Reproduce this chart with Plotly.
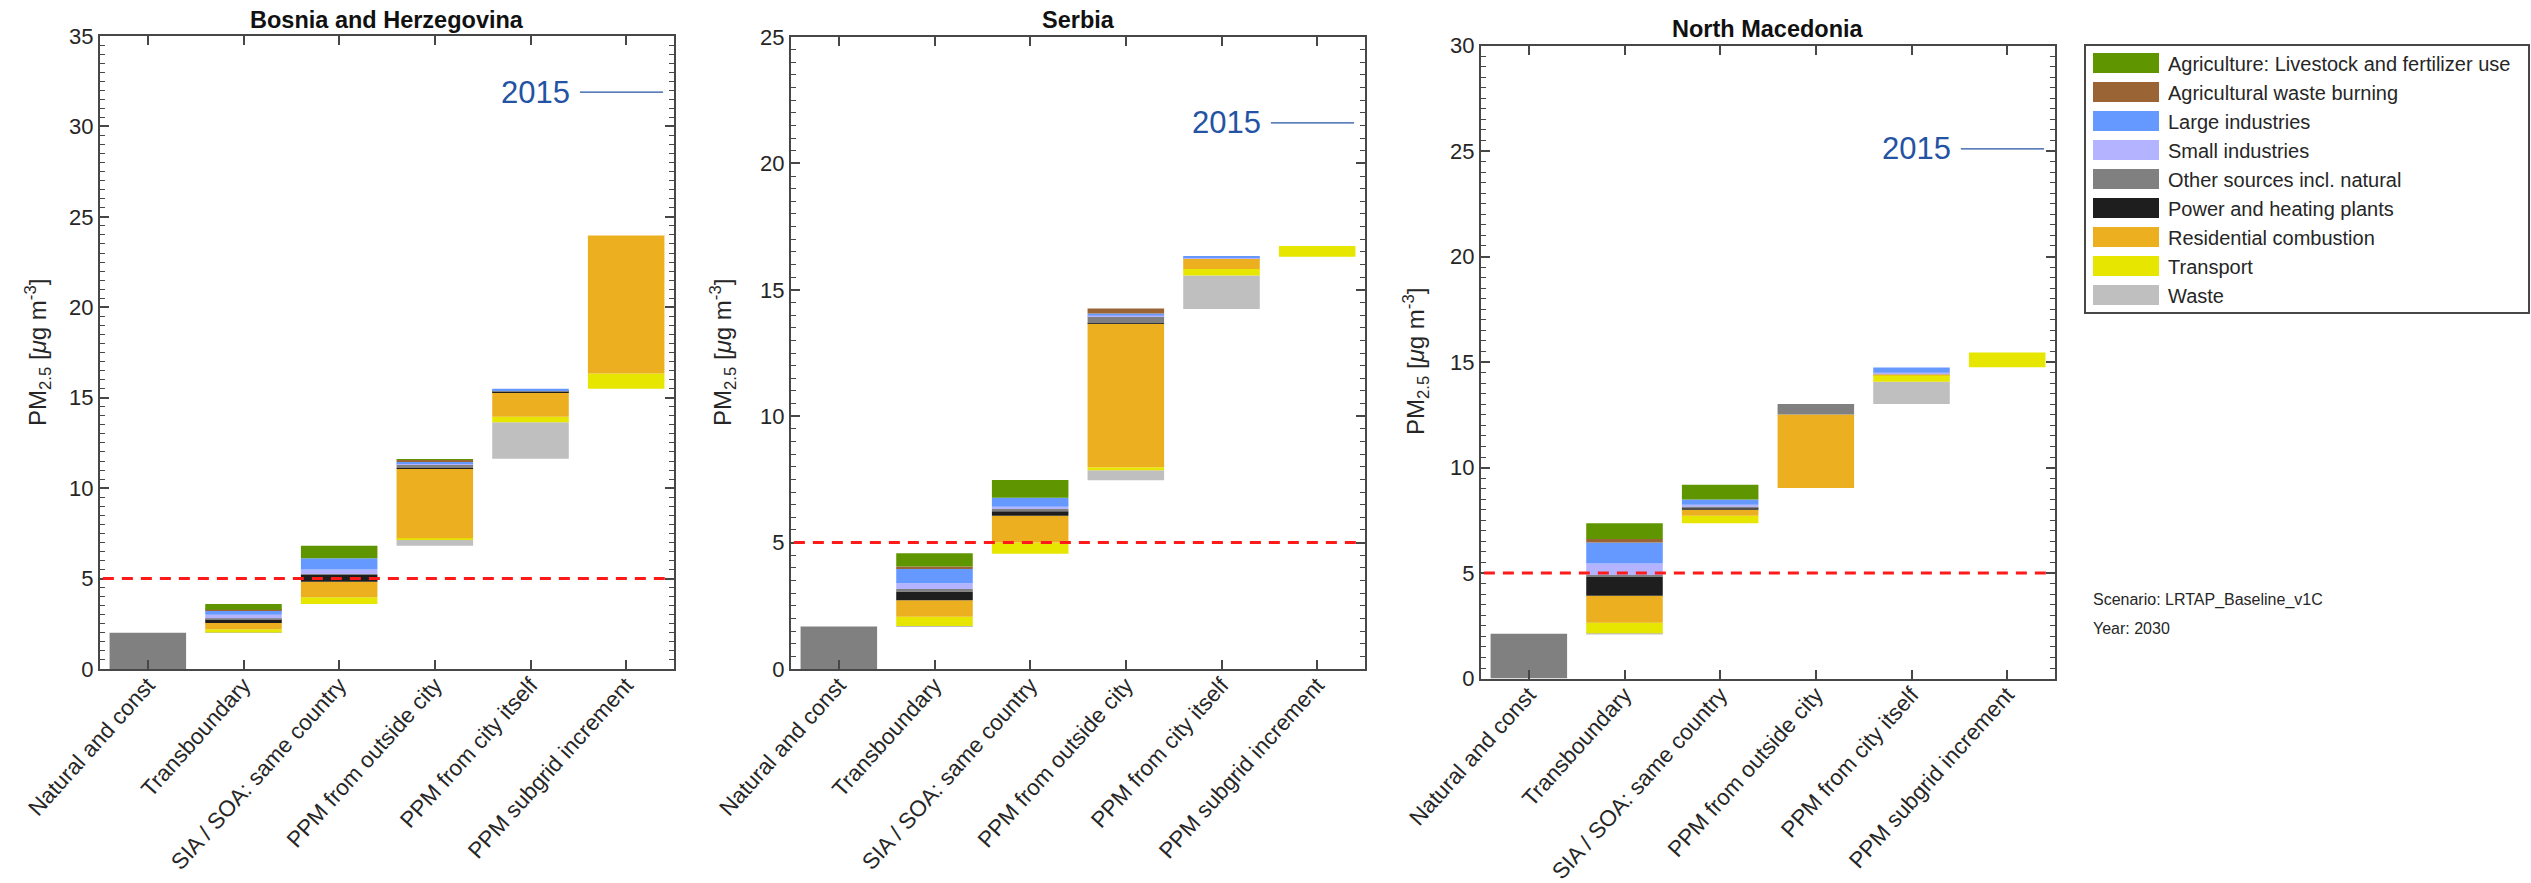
import plotly.graph_objects as go

W, H = 2531, 883

# ---------------------------------------------------------------- data
categories = ["Natural and const", "Transboundary", "SIA / SOA: same country",
              "PPM from outside city", "PPM from city itself", "PPM subgrid increment"]

# sectors listed bottom-to-top as they are stacked inside every bar
sectors = ["Waste", "Transport", "Residential combustion", "Power and heating plants",
           "Other sources incl. natural", "Small industries", "Large industries",
           "Agricultural waste burning", "Agriculture: Livestock and fertilizer use"]
sector_colors = ["#bfbfbf", "#e6e600", "#ebaf20", "#1e1e1e", "#808080",
                 "#b3b3ff", "#6699ff", "#9a6434", "#5f9600"]

countries = ["Bosnia and Herzegovina", "Serbia", "North Macedonia"]

# Bosnia and Herzegovina: bar bottoms and sector contributions (ug/m3)
bih_base = [0.0, 2.00, 3.60, 6.81, 11.63, 15.50]
bih_waste = [0.0, 0.02, 0.00, 0.35, 2.02, 0.00]
bih_transport = [0.0, 0.18, 0.37, 0.07, 0.30, 0.84]
bih_residential = [0.0, 0.35, 0.86, 3.83, 1.36, 7.63]
bih_power = [0.0, 0.20, 0.37, 0.05, 0.02, 0.00]
bih_other = [2.00, 0.05, 0.05, 0.20, 0.05, 0.00]
bih_small = [0.0, 0.20, 0.25, 0.05, 0.02, 0.00]
bih_large = [0.0, 0.25, 0.62, 0.10, 0.10, 0.00]
bih_agwaste = [0.0, 0.02, 0.00, 0.10, 0.00, 0.00]
bih_agri = [0.0, 0.33, 0.69, 0.05, 0.00, 0.00]
bih_2015 = 31.9

# Serbia
srb_base = [0.0, 1.68, 4.56, 7.47, 14.24, 16.31]
srb_waste = [0.0, 0.02, 0.00, 0.39, 1.33, 0.00]
srb_transport = [0.0, 0.37, 0.44, 0.12, 0.25, 0.42]
srb_residential = [0.0, 0.65, 1.06, 5.67, 0.41, 0.00]
srb_power = [0.0, 0.35, 0.18, 0.03, 0.00, 0.00]
srb_other = [1.68, 0.09, 0.09, 0.27, 0.02, 0.00]
srb_small = [0.0, 0.23, 0.09, 0.03, 0.02, 0.00]
srb_large = [0.0, 0.57, 0.35, 0.08, 0.05, 0.00]
srb_agwaste = [0.0, 0.09, 0.00, 0.20, 0.00, 0.00]
srb_agri = [0.0, 0.53, 0.71, 0.00, 0.00, 0.00]
srb_2015 = 21.6

# North Macedonia
mkd_base = [0.0, 2.12, 7.36, 9.03, 13.01, 14.75]
mkd_waste = [0.0, 0.03, 0.00, 0.00, 1.06, 0.00]
mkd_transport = [0.0, 0.50, 0.36, 0.00, 0.32, 0.70]
mkd_residential = [0.0, 1.27, 0.28, 3.49, 0.06, 0.00]
mkd_power = [0.0, 0.89, 0.10, 0.00, 0.00, 0.00]
mkd_other = [2.12, 0.10, 0.04, 0.49, 0.00, 0.00]
mkd_small = [0.0, 0.55, 0.10, 0.00, 0.04, 0.00]
mkd_large = [0.0, 0.99, 0.25, 0.00, 0.25, 0.00]
mkd_agwaste = [0.0, 0.17, 0.00, 0.00, 0.00, 0.00]
mkd_agri = [0.0, 0.74, 0.70, 0.00, 0.00, 0.00]
mkd_2015 = 25.1

who_guideline = 5.0
y_max = [35, 25, 30]

scenario_text = "Scenario: LRTAP_Baseline_v1C"
year_text = "Year: 2030"
y_title = "PM<sub>2.5</sub> [<i>μ</i>g m<sup>-3</sup>]"

country_base = [bih_base, srb_base, mkd_base]
country_sectors = [
    [bih_waste, bih_transport, bih_residential, bih_power, bih_other,
     bih_small, bih_large, bih_agwaste, bih_agri],
    [srb_waste, srb_transport, srb_residential, srb_power, srb_other,
     srb_small, srb_large, srb_agwaste, srb_agri],
    [mkd_waste, mkd_transport, mkd_residential, mkd_power, mkd_other,
     mkd_small, mkd_large, mkd_agwaste, mkd_agri],
]
country_2015 = [bih_2015, srb_2015, mkd_2015]

# ---------------------------------------------------------------- layout helpers
FONT = "Liberation Sans, Arial, sans-serif"
AXIS_COLOR = "#474747"
TEXT_COLOR = "#262626"
BLUE = "#2453a3"


def px_x(x):
    return x / W


def px_y(y):
    return 1 - y / H


# panel boxes in pixels: (left, right, top, bottom)
panels = [(100, 674, 36, 669), (791, 1365, 37, 669), (1481, 2055, 45.5, 678.6)]
title_y = [20, 20, 29]
ytitle_pos = [(38, 353), (723, 353), (1416, 362)]

fig = go.Figure()

for ci, country in enumerate(countries):
    sfx = "" if ci == 0 else str(ci + 1)
    running = list(country_base[ci])
    for si, sector in enumerate(sectors):
        vals = country_sectors[ci][si]
        fig.add_trace(go.Bar(
            x=categories, y=vals, base=list(running),
            width=0.8, marker=dict(color=sector_colors[si], line=dict(width=0)),
            name=sector, showlegend=False,
            xaxis="x" + sfx, yaxis="y" + sfx,
            hovertemplate="%{x}<br>" + sector + ": %{y:.2f}<extra>" + country + "</extra>",
        ))
        running = [r + v for r, v in zip(running, vals)]

layout = dict(
    width=W, height=H, margin=dict(l=0, r=0, t=0, b=0, autoexpand=False),
    paper_bgcolor="white", plot_bgcolor="white",
    barmode="overlay", showlegend=False,
    font=dict(family=FONT, color=TEXT_COLOR, size=22),
)

shapes = []
annotations = []

for ci, country in enumerate(countries):
    sfx = "" if ci == 0 else str(ci + 1)
    l, r, t, b = panels[ci]
    layout["xaxis" + sfx] = dict(
        domain=[px_x(l), px_x(r)], anchor="y" + sfx, automargin=False,
        type="category", range=[-0.5, 5.5],
        showline=True, linecolor=AXIS_COLOR, linewidth=2, mirror="ticks",
        ticks="inside", ticklen=9, tickwidth=1.5, tickcolor=AXIS_COLOR,
        tickangle=-48, ticklabelstandoff=-8,
        tickfont=dict(size=22.5, color=TEXT_COLOR),
        showgrid=False, zeroline=False,
    )
    layout["yaxis" + sfx] = dict(
        domain=[px_y(b), px_y(t)], anchor="x" + sfx, automargin=False,
        range=[0, y_max[ci]], dtick=5, tick0=0,
        showline=True, linecolor=AXIS_COLOR, linewidth=2, mirror="ticks",
        ticks="inside", ticklen=9, tickwidth=1.5, tickcolor=AXIS_COLOR,
        minor=dict(ticks="inside", dtick=0.5, ticklen=5, tickwidth=1.2,
                   tickcolor=AXIS_COLOR, showgrid=False),
        tickfont=dict(size=22, color=TEXT_COLOR),
        showgrid=False, zeroline=False,
    )

    # y-axis title
    annotations.append(dict(
        text=y_title, xref="paper", yref="paper",
        x=px_x(ytitle_pos[ci][0]), y=px_y(ytitle_pos[ci][1]),
        xanchor="center", yanchor="middle", textangle=-90,
        showarrow=False, font=dict(size=24, color=TEXT_COLOR),
    ))

    # country title
    annotations.append(dict(
        text="<b>" + country + "</b>", xref="paper", yref="paper",
        x=px_x((l + r) / 2), y=px_y(title_y[ci]), xanchor="center", yanchor="middle",
        showarrow=False, font=dict(size=23.5, color="#111111"),
    ))

    # WHO guideline
    shapes.append(dict(
        type="line", xref="x" + sfx + " domain", yref="y" + sfx,
        x0=0.005, x1=0.984, y0=who_guideline, y1=who_guideline,
        line=dict(color="#ff1a1a", width=3, dash="11px,8px"), layer="above",
    ))

    # 2015 reference level
    shapes.append(dict(
        type="line", xref="x" + sfx + " domain", yref="y" + sfx,
        x0=0.836, x1=0.981, y0=country_2015[ci], y1=country_2015[ci],
        line=dict(color=BLUE, width=1.3), layer="above",
    ))
    annotations.append(dict(
        text="2015", xref="x" + sfx + " domain", yref="y" + sfx,
        x=0.822, y=country_2015[ci], xanchor="right", yanchor="middle",
        showarrow=False, font=dict(size=31, color=BLUE),
    ))

# legend box drawn from the sector lists (top entry = last stacked sector)
leg_l, leg_r, leg_t, leg_b = 2085, 2529, 45, 313
shapes.append(dict(
    type="rect", xref="paper", yref="paper",
    x0=px_x(leg_l), x1=px_x(leg_r), y0=px_y(leg_b), y1=px_y(leg_t),
    line=dict(color=AXIS_COLOR, width=2), fillcolor="white", layer="below",
))
for k, si in enumerate(reversed(range(len(sectors)))):
    yc = 63 + 29 * k
    shapes.append(dict(
        type="rect", xref="paper", yref="paper",
        x0=px_x(2093), x1=px_x(2159), y0=px_y(yc + 10), y1=px_y(yc - 10),
        line=dict(width=0), fillcolor=sector_colors[si],
    ))
    annotations.append(dict(
        text=sectors[si], xref="paper", yref="paper",
        x=px_x(2166), y=px_y(yc + 1), xanchor="left", yanchor="middle",
        showarrow=False, font=dict(size=20, color=TEXT_COLOR),
    ))

# scenario notes
annotations.append(dict(
    text=scenario_text, xref="paper", yref="paper", x=px_x(2091), y=px_y(600),
    xanchor="left", yanchor="middle", showarrow=False,
    font=dict(size=16, color=TEXT_COLOR),
))
annotations.append(dict(
    text=year_text, xref="paper", yref="paper", x=px_x(2091), y=px_y(628),
    xanchor="left", yanchor="middle", showarrow=False,
    font=dict(size=16, color=TEXT_COLOR),
))

layout["shapes"] = shapes
layout["annotations"] = annotations
fig.update_layout(**layout)

fig.write_html("out.html")
